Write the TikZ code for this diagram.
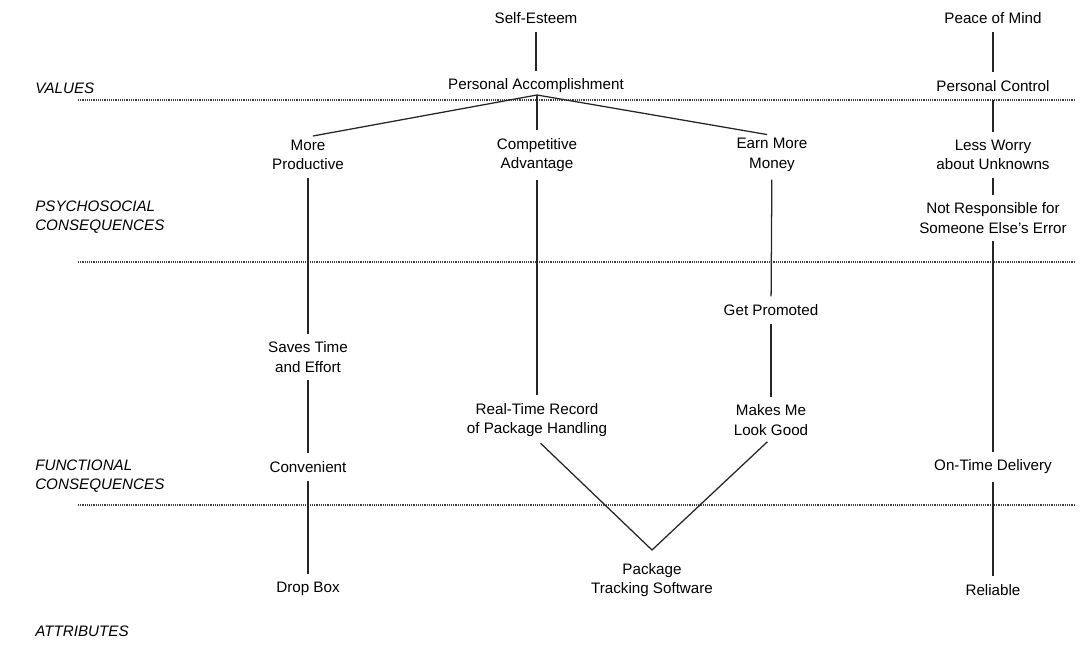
\documentclass[tikz,border=0pt]{standalone}
\usepackage{fontspec}
\setmainfont{Liberation Sans}
\usetikzlibrary{positioning,calc}
\tikzset{
  ladnode/.style={align=center, inner sep=2pt, font=\fontsize{10.8}{13.8}\selectfont},
  ladcat/.style={anchor=west, align=left, inner sep=0pt, font=\fontsize{10.8}{13.8}\selectfont\itshape},
  ladlink/.style={draw=black!85, line width=0.9pt, shorten <=3.5pt, shorten >=3.5pt},
  ladfan/.style={draw=black!85, line width=0.9pt, shorten >=3.5pt},
  ladsep/.style={draw=black!75, line width=1pt, dash pattern=on 0.5pt off 0.8pt},
}

\begin{document}
\begin{tikzpicture}[x=0.025cm, y=-0.025cm]
  \useasboundingbox (0,0) rectangle (1089,648);
  % level separators
  \foreach \yy in {100,262,505}
    \draw[ladsep] (78,\yy) -- (1075,\yy);

  % level names
  \node[ladcat] (catV) at (35,88) {VALUES};
  \node[ladcat] (catP) at (35,217) {PSYCHOSOCIAL\\CONSEQUENCES};
  \node[ladcat] (catF) at (35,476) {FUNCTIONAL\\CONSEQUENCES};
  \node[ladcat] (catA) at (35,631) {ATTRIBUTES};

  % left ladders
  \node[ladnode] (se) at (536,18) {Self-Esteem};
  \node[ladnode] (pa) at (536,86) {Personal Accomplishment};
  \node[ladnode] (mp) at (308,155) {More\\Productive};
  \node[ladnode] (ca) at (537,155) {Competitive\\Advantage};
  \node[ladnode] (em) at (772,155) {Earn More\\Money};
  \node[ladnode] (gp) at (771,310) {Get Promoted};
  \node[ladnode] (st) at (308,357) {Saves Time\\and Effort};
  \node[ladnode] (rt) at (537,420) {Real-Time Record\\of Package Handling};
  \node[ladnode] (mm) at (771,420) {Makes Me\\Look Good};
  \node[ladnode] (cv) at (308,467) {Convenient};
  \node[ladnode] (db) at (308,589) {Drop Box};
  \node[ladnode] (pk) at (652,580) {Package\\Tracking Software};
  \coordinate (vtx) at (652,550);
  \coordinate (apx) at (537,95);

  % right ladder
  \node[ladnode] (pm) at (993,18) {Peace of Mind};
  \node[ladnode] (pc) at (993,86) {Personal Control};
  \node[ladnode] (lw) at (993,155) {Less Worry\\about Unknowns};
  \node[ladnode] (nr) at (993,218) {Not Responsible for\\Someone Else's Error};
  \node[ladnode] (ot) at (993,467) {On-Time Delivery};
  \node[ladnode] (rl) at (993,590) {Reliable};

  % links
  \draw[ladlink] (se) -- (pa);
  \draw[ladfan] (apx) -- (mp.north);
  \draw[ladfan] (apx) -- (ca.north);
  \draw[ladfan] (apx) -- (em.north);
  \draw[ladlink] (mp) -- (st);
  \draw[ladlink] (st) -- (cv);
  \draw[ladlink] (cv) -- (db);
  \draw[ladlink] (ca) -- (rt);
  \draw[ladlink] (em) -- (gp);
  \draw[ladlink] (gp) -- (mm);
  \draw[ladlink] (rt.south) -- (vtx) -- (mm.south);
  \draw[ladlink] (pm) -- (pc);
  \draw[ladlink] (pc) -- (lw);
  \draw[ladlink] (lw) -- (nr);
  \draw[ladlink] (nr) -- (ot);
  \draw[ladlink] (ot) -- (rl);
\end{tikzpicture}
\end{document}
